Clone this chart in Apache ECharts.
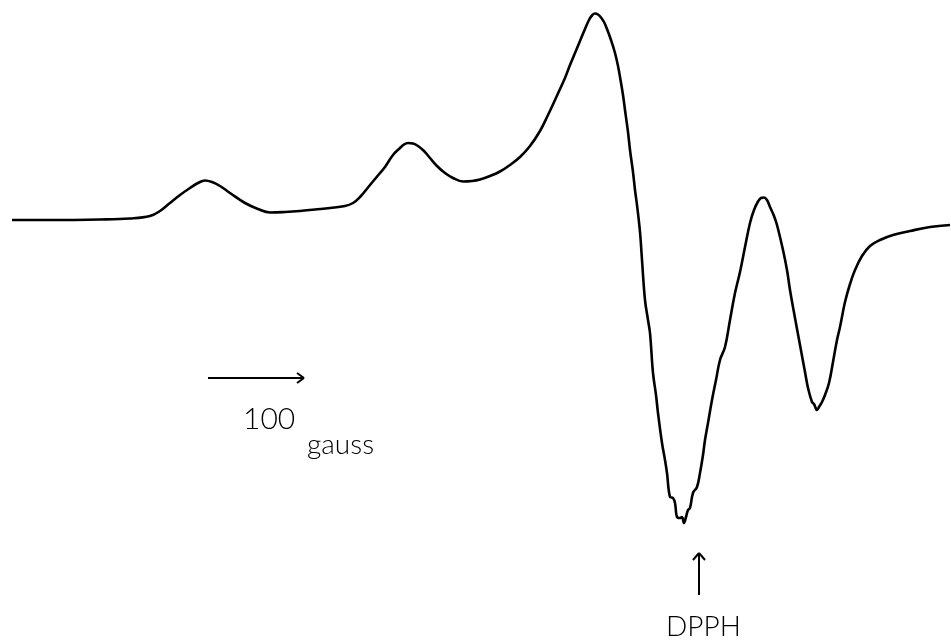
<!DOCTYPE html>
<html>
<head>
<meta charset="utf-8">
<script src="https://cdn.jsdelivr.net/npm/echarts@6/dist/echarts.min.js"></script>
<style>html,body{margin:0;padding:0;background:#fff;}#c{width:951px;height:641px;}</style>
</head>
<body>
<div id="c"></div>
<script>
// Spectrum trace: [field (arbitrary units, left→right), signal (arbitrary units, downward positive)]
const spectrum = [
[12,220],[50,220],[100,219.5],[130,218.5],[150,216],[160,211],[170,203],[180,195],[190,188],[198,183],
[205,180.5],[212,182],[220,186],[230,193],[245,203],[258,209],[270,212.5],[285,212],[300,211],[315,209.5],
[330,208],[345,206],[353,203],[360,197],[370,185],[380,173],[385,167],[393,155],[400,148],[404,144.5],
[408,143],[413,143.5],[418,146],[424,151],[430,158],[437,166],[445,173],[453,178],[463,181.5],[472,181],
[480,179.5],[490,176],[500,171.5],[510,165],[520,157],[530,146],[540,131],[548,115],[555,100],[560,89],
[565,78],[570,65],[575,53],[580,41],[585,29],[589,20],[592,15.5],[595,13.5],[598,14.5],[601,17.5],[604,22],
[607,29],[611,40],[615,53],[618,66],[620,77],[623,95],[625,110],[628,132],[630,150],[633,172],
[635,190],[637,205],[640,232],[642,260],[645,300],[648,320],[650,333],[653,373],[656,395],[658,413],
[662,443],[665,460],[667,473],[670,497],[673,498],[675,503],[677,517],[680,518],[682,517],[684,523],
[686,517],[688,510],[690,508],[693,493],[697,487],[700,473],[703,455],[705,440],[708,423],[712,400],
[716,380],[720,360],[725,347],[730,320],[735,293],[740,272],[745,247],[750,223],[754,210],[758,201.5],
[761,198],[764,197.5],[767,200],[770,207],[774,216],[777,225],[783,250],[787,270],[790,290],[795,318],[800,345],
[805,372],[808,388],[812,402],[814,404],[817,410],[819,407],[822,402],[825,395],[829,383],[833,362],
[837,340],[840,327],[845,302],[850,284],[855,270],[862,256],[870,246],[880,240],[893,235],[910,231],
[930,227],[950,225]
];
// Scale-bar arrow (100 gauss) and DPPH marker arrow, in the same axis units
const scaleArrow = {from:[208,378], to:[304,378]};
const dpphArrow = {from:[699,595], to:[699,553]};
const labels = {scale:'100', unit:'gauss', marker:'DPPH'};

const chart = echarts.init(document.getElementById('c'), null, {renderer:'canvas'});
function seg(a,b){return [{coord:a},{coord:b}];}
const lineStyle = {color:'#000', width:2, type:'solid'};
chart.setOption({
  animation:false,
  backgroundColor:'#fff',
  grid:{left:0,right:0,top:0,bottom:0},
  xAxis:{type:'value',min:0,max:951,show:false},
  yAxis:{type:'value',min:0,max:641,inverse:true,show:false},
  series:[{
    type:'line',
    data:spectrum,
    showSymbol:false,
    smooth:0.4,
    lineStyle:{color:'#000',width:2.6},
    markLine:{
      silent:true,
      symbol:['none','none'],
      label:{show:false},
      lineStyle:lineStyle,
      data:[
        seg(scaleArrow.from, scaleArrow.to),
        seg([scaleArrow.to[0]-7, scaleArrow.to[1]-5], scaleArrow.to),
        seg([scaleArrow.to[0]-7, scaleArrow.to[1]+5], scaleArrow.to),
        seg(dpphArrow.from, dpphArrow.to),
        seg([dpphArrow.to[0]-6, dpphArrow.to[1]+7], dpphArrow.to),
        seg([dpphArrow.to[0]+6, dpphArrow.to[1]+7], dpphArrow.to)
      ]
    }
  }],
  graphic:[
    {type:'text',left:243,top:404,style:{text:labels.scale,font:'300 30px Lato, "Liberation Sans", sans-serif',fill:'#000'}},
    {type:'text',left:307,top:431,style:{text:labels.unit,font:'300 28px Lato, "Liberation Sans", sans-serif',fill:'#000'}},
    {type:'text',left:666,top:613,style:{text:labels.marker,font:'300 28px Lato, "Liberation Sans", sans-serif',fill:'#000'}}
  ]
});
</script>
</body>
</html>
